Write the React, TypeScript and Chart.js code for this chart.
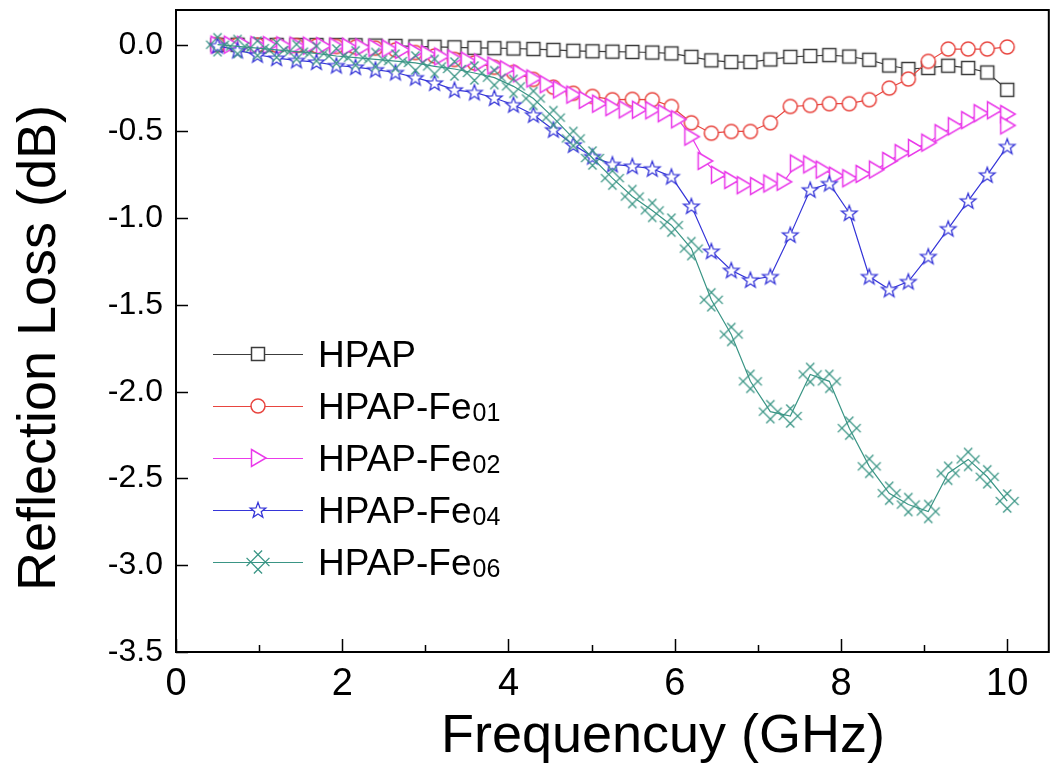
import React, { useEffect, useRef } from 'react';
import { Chart, registerables } from 'chart.js';

Chart.register(...registerables);

// ---------- data ----------
const freq = [
  0.5, 0.74, 0.98, 1.21, 1.45, 1.69, 1.93, 2.16, 2.4, 2.64, 2.88, 3.11, 3.35, 3.59, 3.83, 4.06, 4.3, 4.54, 4.78, 5.01,
  5.25, 5.49, 5.73, 5.96, 6.2, 6.44, 6.68, 6.91, 7.15, 7.39, 7.63, 7.86, 8.1, 8.34, 8.58, 8.81, 9.05, 9.29, 9.53, 9.76, 10.0,
];

const freqFe02 = [
  0.5, 0.66, 0.82, 0.98, 1.13, 1.29, 1.45, 1.61, 1.77, 1.93, 2.08, 2.24, 2.4, 2.56, 2.72, 2.88, 3.03, 3.19, 3.35, 3.51,
  3.67, 3.83, 3.98, 4.14, 4.3, 4.46, 4.62, 4.78, 4.93, 5.09, 5.25, 5.41, 5.57, 5.73, 5.88, 6.04, 6.2, 6.36, 6.52, 6.68,
  6.83, 6.99, 7.15, 7.31, 7.47, 7.63, 7.78, 7.94, 8.1, 8.26, 8.42, 8.58, 8.73, 8.89, 9.05, 9.21, 9.37, 9.53, 9.68, 9.84,
  10.0, 10.0,
];

const hpap = [
  0, 0, -0.001, -0.001, -0.002, -0.002, -0.002, -0.003, -0.005, -0.007, -0.01, -0.012, -0.015, -0.018, -0.02, -0.022,
  -0.025, -0.03, -0.035, -0.038, -0.04, -0.042, -0.045, -0.05, -0.07, -0.09, -0.1, -0.1, -0.085, -0.07, -0.065, -0.06,
  -0.068, -0.087, -0.12, -0.14, -0.134, -0.121, -0.134, -0.16, -0.26,
];

const fe01 = [
  0, -0.001, -0.002, -0.003, -0.005, -0.007, -0.01, -0.014, -0.02, -0.03, -0.045, -0.065, -0.085, -0.105, -0.13, -0.16,
  -0.2, -0.245, -0.28, -0.298, -0.317, -0.315, -0.317, -0.356, -0.45, -0.51, -0.5, -0.5, -0.45, -0.356, -0.35, -0.34,
  -0.34, -0.317, -0.25, -0.198, -0.096, -0.025, -0.025, -0.025, -0.013,
];

const fe02 = [
  0, 0, -0.001, -0.002, -0.003, -0.004, -0.005, -0.006, -0.008, -0.01, -0.012, -0.015, -0.018, -0.022, -0.03, -0.042,
  -0.055, -0.068, -0.08, -0.092, -0.103, -0.12, -0.142, -0.165, -0.195, -0.228, -0.258, -0.288, -0.318, -0.34, -0.36,
  -0.373, -0.375, -0.378, -0.395, -0.43, -0.53, -0.67, -0.75, -0.78, -0.81, -0.815, -0.8, -0.79, -0.685, -0.69, -0.72,
  -0.755, -0.77, -0.745, -0.72, -0.67, -0.625, -0.595, -0.565, -0.51, -0.47, -0.435, -0.395, -0.378, -0.4, -0.465,
];

const fe04 = [
  -0.005, -0.033, -0.058, -0.077, -0.09, -0.1, -0.12, -0.129, -0.144, -0.16, -0.19, -0.22, -0.26, -0.275, -0.307, -0.346,
  -0.404, -0.49, -0.577, -0.645, -0.69, -0.7, -0.715, -0.76, -0.93, -1.19, -1.3, -1.355, -1.336, -1.096, -0.836, -0.8,
  -0.97, -1.336, -1.41, -1.365, -1.22, -1.06, -0.9, -0.75, -0.586,
];

const fe06 = [
  0, -0.01, -0.02, -0.03, -0.04, -0.05, -0.065, -0.075, -0.085, -0.095, -0.105, -0.125, -0.14, -0.163, -0.19, -0.24,
  -0.31, -0.42, -0.54, -0.653, -0.769, -0.875, -0.955, -1.04, -1.175, -1.47, -1.67, -1.94, -2.115, -2.14, -1.9, -1.94,
  -2.21, -2.43, -2.585, -2.65, -2.69, -2.47, -2.39, -2.49, -2.63,
];

const seriesLabels = ['HPAP', 'HPAP-Fe01', 'HPAP-Fe02', 'HPAP-Fe04', 'HPAP-Fe06'];
const yTickValues = [0, -0.5, -1.0, -1.5, -2.0, -2.5, -3.0, -3.5];
const xTickValues = [0, 2, 4, 6, 8, 10];
const xMinorTickValues = [1, 3, 5, 7, 9];
const xTitle = 'Frequencuy (GHz)';
const yTitle = 'Reflection Loss (dB)';

// ---------- styles ----------
const FONT = "'Liberation Sans', Arial, sans-serif";
const colors = ['#3c3c3c', '#e8453f', '#ea3aea', '#3535d8', '#3a9585'];
const kinds = ['square', 'circle', 'triangle', 'star', 'crossdiamond'];

function makeMarker(kind: string, color: string): HTMLCanvasElement {
  const c = document.createElement('canvas');
  const S = 28;
  c.width = S;
  c.height = S;
  const ctx = c.getContext('2d')!;
  const m = S / 2;
  ctx.strokeStyle = color;
  ctx.fillStyle = '#ffffff';
  ctx.lineWidth = 1.5;
  ctx.lineJoin = 'miter';
  ctx.beginPath();
  if (kind === 'square') {
    ctx.rect(m - 6.5, m - 6.5, 13, 13);
    ctx.fill();
    ctx.stroke();
  } else if (kind === 'circle') {
    ctx.arc(m, m, 7, 0, Math.PI * 2);
    ctx.fill();
    ctx.stroke();
  } else if (kind === 'triangle') {
    ctx.moveTo(m - 6.5, m - 8.5);
    ctx.lineTo(m + 8, m);
    ctx.lineTo(m - 6.5, m + 8.5);
    ctx.closePath();
    ctx.fill();
    ctx.stroke();
  } else if (kind === 'star') {
    ctx.lineWidth = 1.3;
    const R = 8.2;
    const r = 3.4;
    for (let k = 0; k < 10; k++) {
      const rad = k % 2 === 0 ? R : r;
      const a = -Math.PI / 2 + (k * Math.PI) / 5;
      const px = m + rad * Math.cos(a);
      const py = m + 0.6 + rad * Math.sin(a);
      if (k === 0) ctx.moveTo(px, py);
      else ctx.lineTo(px, py);
    }
    ctx.closePath();
    ctx.fill();
    ctx.stroke();
  } else {
    ctx.lineWidth = 1.3;
    const d = 5.2;
    const L = 11;
    const s = Math.SQRT1_2;
    for (const o of [-d, d]) {
      const ox = o * s;
      const oy = -o * s;
      ctx.moveTo(m + ox - L * s, m + oy - L * s);
      ctx.lineTo(m + ox + L * s, m + oy + L * s);
    }
    for (const o of [-d, d]) {
      const ox = o * s;
      const oy = o * s;
      ctx.moveTo(m + ox - L * s, m + oy + L * s);
      ctx.lineTo(m + ox + L * s, m + oy - L * s);
    }
    ctx.stroke();
  }
  return c;
}

export default function App() {
  const ref = useRef<HTMLCanvasElement | null>(null);

  useEffect(() => {
    document.body.style.margin = '0';
    const canvas = ref.current;
    if (!canvas) return;

    const markers = kinds.map((k, i) => makeMarker(k, colors[i]));
    const seriesY = [hpap, fe01, fe02, fe04, fe06];
    const seriesX = [freq, freq, freqFe02, freq, freq];

    const datasets = seriesLabels.map((label, i) => ({
      label,
      data: seriesX[i].map((f, j) => ({ x: f, y: seriesY[i][j] })),
      borderColor: colors[i],
      backgroundColor: colors[i],
      borderWidth: 1.2,
      pointStyle: markers[i],
      pointRadius: 7,
      pointHoverRadius: 7,
      tension: 0,
      order: 5 - i,
    }));

    const decor = {
      id: 'decor',
      afterDraw(chart: any) {
        const ctx = chart.ctx;
        const { left, right, top, bottom } = chart.chartArea;
        const xs = chart.scales.x;
        const ys = chart.scales.y;
        ctx.save();
        ctx.strokeStyle = '#000';
        ctx.lineWidth = 2;
        ctx.strokeRect(left, top, right - left, bottom - top);
        ctx.lineWidth = 1.5;
        ctx.beginPath();
        for (const v of xTickValues) {
          const px = Math.round(xs.getPixelForValue(v)) + 0.5;
          ctx.moveTo(px, bottom);
          ctx.lineTo(px, bottom - 13);
        }
        for (const v of xMinorTickValues) {
          const px = Math.round(xs.getPixelForValue(v)) + 0.5;
          ctx.moveTo(px, bottom);
          ctx.lineTo(px, bottom - 7);
        }
        for (const v of yTickValues) {
          const py = Math.round(ys.getPixelForValue(v)) + 0.5;
          ctx.moveTo(left, py);
          ctx.lineTo(left + 12, py);
        }
        ctx.stroke();

        // titles
        ctx.fillStyle = '#000';
        ctx.font = `54px ${FONT}`;
        ctx.textAlign = 'center';
        ctx.textBaseline = 'alphabetic';
        ctx.fillText(xTitle, 663, 752);
        ctx.save();
        ctx.translate(55, 348);
        ctx.rotate(-Math.PI / 2);
        ctx.fillText(yTitle, 0, 0);
        ctx.restore();

        // legend
        const ly0 = 354;
        const lstep = 52;
        seriesLabels.forEach((label, i) => {
          const y = ly0 + i * lstep;
          ctx.strokeStyle = colors[i];
          ctx.lineWidth = 1.2;
          ctx.beginPath();
          ctx.moveTo(213, y + 0.5);
          ctx.lineTo(303, y + 0.5);
          ctx.stroke();
          const mk = markers[i];
          ctx.drawImage(mk, 258 - mk.width / 2, y - mk.height / 2);
          const mt = label.match(/^(.*Fe)(\d+)$/);
          const main = mt ? mt[1] : label;
          const sub = mt ? mt[2] : '';
          ctx.fillStyle = '#000';
          ctx.textAlign = 'left';
          ctx.textBaseline = 'alphabetic';
          ctx.font = `37px ${FONT}`;
          ctx.fillText(main, 318, y + 13);
          if (sub) {
            const w = ctx.measureText(main).width;
            ctx.font = `25px ${FONT}`;
            ctx.fillText(sub, 318 + w + 1, y + 15);
          }
        });
        ctx.restore();
      },
    };

    const chart = new Chart(canvas, {
      type: 'line',
      data: { datasets: datasets as any },
      options: {
        animation: false,
        responsive: false,
        events: [],
        layout: { padding: { top: 10, right: 6, left: 0, bottom: 0 } },
        plugins: { legend: { display: false }, tooltip: { enabled: false } },
        scales: {
          x: {
            type: 'linear',
            min: 0,
            max: 10.5,
            grid: { display: false, drawTicks: false },
            border: { display: false },
            ticks: {
              font: { family: FONT, size: 38 },
              color: '#000',
              padding: 10,
              maxRotation: 0,
              autoSkip: false,
              callback: (v: any) => String(v),
            },
            afterBuildTicks: (s: any) => {
              s.ticks = xTickValues.map((v) => ({ value: v }));
            },
            afterFit: (s: any) => {
              s.height = 124;
              s.paddingLeft = 0;
              s.paddingRight = 0;
            },
          },
          y: {
            type: 'linear',
            min: -3.5,
            max: 0.2,
            grid: { display: false, drawTicks: false },
            border: { display: false },
            ticks: {
              font: { family: FONT, size: 32 },
              color: '#000',
              padding: 13,
              autoSkip: false,
              callback: (v: any) => Number(v).toFixed(1),
            },
            afterBuildTicks: (s: any) => {
              s.ticks = yTickValues.map((v) => ({ value: v }));
            },
            afterFit: (s: any) => {
              s.width = 176;
              s.paddingTop = 0;
              s.paddingBottom = 0;
            },
          },
        },
      },
      plugins: [decor],
    });

    return () => chart.destroy();
  }, []);

  return (
    <div style={{ width: 1057, height: 776, background: '#fff' }}>
      <canvas ref={ref} width={1057} height={776} style={{ display: 'block' }} />
    </div>
  );
}
